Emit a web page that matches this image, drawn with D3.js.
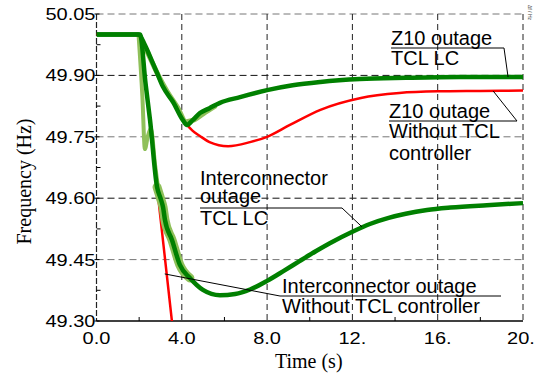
<!DOCTYPE html>
<html>
<head>
<meta charset="utf-8">
<script src="https://cdn.jsdelivr.net/npm/d3@7"></script>
<style>
  body { margin: 0; background: #fff; }
  svg { display: block; }
</style>
</head>
<body>
<div id="chart"></div>
<script>
// tick labels
var xTicks = [0, 4, 8, 12, 16, 20];
var xTickLabels = ["0.0", "4.0", "8.0", "12.", "16.", "20."];
var yTicks = [50.05, 49.90, 49.75, 49.60, 49.45, 49.30];
var yTickLabels = ["50.05", "49.90", "49.75", "49.60", "49.45", "49.30"];
var xMinor = [2, 6, 10, 14, 18];
var yMinor = [49.975, 49.825, 49.675, 49.525, 49.375];

// Z10 outage, TCL LC
var z10TclTime = [0, 1.97, 2.27, 2.6, 2.84, 3.12, 3.59, 4.06, 4.24, 4.5, 4.85, 5.3, 5.79, 6.73, 8.0, 9.2, 10.5, 12.35, 14.5, 17, 20];
var z10TclFreq = [50.0, 50.0, 49.974, 49.935, 49.906, 49.872, 49.835, 49.79, 49.779, 49.79, 49.808, 49.82, 49.833, 49.847, 49.864, 49.876, 49.884, 49.891, 49.894, 49.896, 49.896];

// Z10 outage, without TCL controller
var z10NoTime = [0, 1.97, 2.27, 2.6, 2.84, 3.12, 3.59, 4.06, 4.24, 4.5, 4.85, 5.3, 6.17, 7.2, 8.0, 9.07, 10.5, 12.4, 14.2, 16, 18, 20];
var z10NoFreq = [50.0, 50.0, 49.974, 49.935, 49.906, 49.872, 49.835, 49.79, 49.779, 49.765, 49.752, 49.737, 49.727, 49.737, 49.75, 49.779, 49.816, 49.845, 49.857, 49.861, 49.862, 49.863];

// Interconnector outage, TCL LC
var icTclTime = [0, 2.04, 2.3, 2.51, 2.84, 3.0, 3.12, 3.21, 3.54, 3.91, 4.38, 4.99, 5.79, 6.5, 7.2, 8.0, 8.8, 9.54, 10.3, 10.94, 12.0, 12.82, 13.7, 14.5, 15.5, 16.6, 18.3, 20];
var icTclFreq = [50.0, 50.0, 49.88, 49.791, 49.627, 49.6, 49.578, 49.547, 49.498, 49.437, 49.405, 49.376, 49.363, 49.366, 49.377, 49.398, 49.423, 49.447, 49.471, 49.490, 49.518, 49.537, 49.552, 49.562, 49.571, 49.577, 49.583, 49.588];

// Interconnector outage, without TCL controller
var icNoTime = [0, 2.04, 2.3, 2.51, 2.84, 3.6];
var icNoFreq = [50.0, 50.0, 49.88, 49.791, 49.627, 49.27];

// lighter runs behind the TCL LC traces
var lightZ10Time = [1.97, 2.4, 2.9, 3.3, 3.8, 4.2, 4.6, 5.0, 5.6];
var lightZ10Freq = [50.0, 49.955, 49.9, 49.862, 49.822, 49.787, 49.792, 49.806, 49.826];
var lightIcTime = [1.97, 2.15, 2.27, 2.4, 2.55, 2.75, 3.0, 3.3, 3.6, 4.0, 4.5];
var lightIcFreq = [50.0, 49.85, 49.72, 49.75, 49.77, 49.68, 49.59, 49.535, 49.485, 49.432, 49.398];

var width = 539, height = 374;
var margin = {top: 14, right: 16, bottom: 53, left: 96.5};
var w = width - margin.left - margin.right;
var h = height - margin.top - margin.bottom;

var svg = d3.select("#chart").append("svg")
  .attr("width", width).attr("height", height);

var x = d3.scaleLinear().domain([0, 20]).range([margin.left, margin.left + w]);
var y = d3.scaleLinear().domain([49.30, 50.05]).range([margin.top + h, margin.top]);

svg.append("clipPath").attr("id", "plot")
  .append("rect")
  .attr("x", margin.left).attr("y", margin.top)
  .attr("width", w).attr("height", h);

// horizontal grid (top one is the frame)
svg.selectAll("line.hgrid")
  .data(yTicks.slice(0, 5))
  .enter().append("line")
  .attr("x1", x(0)).attr("x2", x(20))
  .attr("y1", function(d) { return y(d); })
  .attr("y2", function(d) { return y(d); })
  .attr("stroke", function(d, i) { return i % 2 ? "#111" : "#777"; })
  .attr("stroke-width", 1)
  .attr("stroke-dasharray", "7,4");

// vertical grid
svg.selectAll("line.vgrid")
  .data(xTicks.slice(1))
  .enter().append("line")
  .attr("x1", function(d) { return x(d); })
  .attr("x2", function(d) { return x(d); })
  .attr("y1", y(50.05)).attr("y2", y(49.30))
  .attr("stroke", "#222")
  .attr("stroke-width", 1)
  .attr("stroke-dasharray", "6,4");

// axes lines
svg.append("line")
  .attr("x1", x(0)).attr("x2", x(0))
  .attr("y1", y(50.05)).attr("y2", y(49.30))
  .attr("stroke", "#222").attr("stroke-width", 1.2)
  .attr("stroke-dasharray", "6,2");
svg.append("line")
  .attr("x1", x(0)).attr("x2", x(20))
  .attr("y1", y(49.30)).attr("y2", y(49.30))
  .attr("stroke", "#000").attr("stroke-width", 1.5);

// minor ticks
svg.selectAll("line.ymin")
  .data(yMinor).enter().append("line")
  .attr("x1", x(0)).attr("x2", x(0) + 4)
  .attr("y1", function(d) { return y(d); })
  .attr("y2", function(d) { return y(d); })
  .attr("stroke", "#000");
svg.selectAll("line.xmin")
  .data(xMinor).enter().append("line")
  .attr("x1", function(d) { return x(d); })
  .attr("x2", function(d) { return x(d); })
  .attr("y1", y(49.30)).attr("y2", y(49.30) - 4)
  .attr("stroke", "#000");
svg.selectAll("line.ymaj")
  .data(yTicks).enter().append("line")
  .attr("x1", x(0) - 2).attr("x2", x(0) + 3)
  .attr("y1", function(d) { return y(d); })
  .attr("y2", function(d) { return y(d); })
  .attr("stroke", "#000");

// tick labels (wide digits)
svg.selectAll("text.ylab")
  .data(yTicks).enter().append("text")
  .attr("transform", function(d) { return "translate(" + (x(0) - 1) + "," + (y(d) + 6) + ") scale(1.25,1)"; })
  .attr("text-anchor", "end")
  .style("font-family", "'Liberation Sans', Arial, sans-serif")
  .style("font-size", "16px")
  .text(function(d, i) { return yTickLabels[i]; });

svg.selectAll("text.xlab")
  .data(xTicks).enter().append("text")
  .attr("transform", function(d, i) { return "translate(" + (x(d) - (i === xTicks.length - 1 ? 2 : 0)) + "," + (y(49.30) + 23) + ") scale(1.25,1)"; })
  .attr("text-anchor", "middle")
  .style("font-family", "'Liberation Sans', Arial, sans-serif")
  .style("font-size", "16px")
  .text(function(d, i) { return xTickLabels[i]; });

// axis titles
svg.append("text")
  .attr("transform", "translate(31," + (margin.top + h / 2 + 14) + ") rotate(-90)")
  .attr("text-anchor", "middle")
  .style("font-family", "'Liberation Serif', 'Times New Roman', serif")
  .style("font-size", "20px")
  .text("Frequency (Hz)");
svg.append("text")
  .attr("x", x(10) - 1).attr("y", 368)
  .attr("text-anchor", "middle")
  .style("font-family", "'Liberation Serif', 'Times New Roman', serif")
  .style("font-size", "20px")
  .text("Time (s)");

svg.append("text")
  .attr("transform", "translate(528,5) rotate(90)")
  .style("font-family", "'Liberation Sans', Arial, sans-serif")
  .style("font-size", "5px")
  .attr("fill", "#444")
  .text("Δf / Hz");

// curves
var line = d3.line()
  .x(function(d) { return x(d[0]); })
  .y(function(d) { return y(d[1]); })
  .curve(d3.curveMonotoneX);

function pts(t, f) { return t.map(function(v, i) { return [v, f[i]]; }); }

var g = svg.append("g").attr("clip-path", "url(#plot)");

g.append("path").datum(pts(z10NoTime, z10NoFreq))
  .attr("d", line).attr("fill", "none")
  .attr("stroke", "#ff0000").attr("stroke-width", 2.5);
g.append("path").datum(pts(icNoTime, icNoFreq))
  .attr("d", line).attr("fill", "none")
  .attr("stroke", "#ff0000").attr("stroke-width", 2.5);

g.append("path").datum(pts(lightZ10Time, lightZ10Freq))
  .attr("d", line).attr("fill", "none")
  .attr("stroke", "#8fc05a").attr("stroke-width", 5);
g.append("path").datum(pts(lightIcTime, lightIcFreq))
  .attr("d", line).attr("fill", "none")
  .attr("stroke", "#8fc05a").attr("stroke-width", 4);
g.append("path").datum(pts(icTclTime.slice(4, 11), icTclFreq.slice(4, 11)))
  .attr("d", line).attr("fill", "none")
  .attr("stroke", "#8fc05a").attr("stroke-width", 9)
  .attr("stroke-linecap", "round");

g.append("path").datum(pts(z10TclTime, z10TclFreq))
  .attr("d", line).attr("fill", "none")
  .attr("stroke", "#008000").attr("stroke-width", 4.5)
  .attr("stroke-linejoin", "round");
g.append("path").datum(pts(icTclTime, icTclFreq))
  .attr("d", line).attr("fill", "none")
  .attr("stroke", "#008000").attr("stroke-width", 4.5)
  .attr("stroke-linejoin", "round");

// annotations
var font = "'Liberation Sans', Arial, sans-serif";
function label(lines, x0) {
  lines.forEach(function(l) {
    svg.append("text")
      .attr("x", x0).attr("y", l[1])
      .style("font-family", font).style("font-size", "20px")
      .text(l[0]);
  });
}
function leader(p) {
  svg.append("path")
    .attr("d", d3.line()(p))
    .attr("fill", "none").attr("stroke", "#000").attr("stroke-width", 1);
}

label([["Z10 outage", 45], ["TCL LC", 65]], 391);
leader([[391, 48], [504, 48], [x(19.3), y(49.896)]]);

label([["Z10 outage", 118], ["Without TCL", 138], ["controller", 160]], 389);
leader([[389, 121], [517, 121], [x(18.6), y(49.862)]]);

label([["Interconnector", 185], ["outage", 203], ["TCL LC", 225]], 200);
leader([[200, 208], [342, 208], [x(12.45), y(49.53)]]);

label([["Interconnector outage", 293], ["Without TCL controller", 313]], 282);
leader([[x(3.2), y(49.415)], [280, 296], [501, 296]]);
</script>
</body>
</html>
